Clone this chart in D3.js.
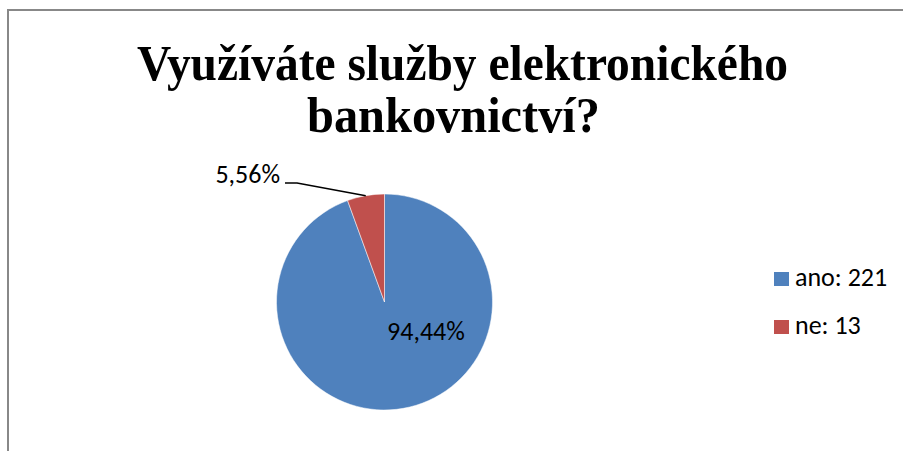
<!DOCTYPE html>
<html>
<head>
<meta charset="utf-8">
<script src="https://cdn.jsdelivr.net/npm/d3@7"></script>
<style>
  body { margin: 0; background: #fff; }
  svg { display: block; }
</style>
</head>
<body>
<svg></svg>
<script>
const titleLines = ['Využíváte služby elektronického', 'bankovnictví?'];
const titleWidths = [651, 293];
const categories = ['ano', 'ne'];
const counts = [221, 13];
const percentLabels = ['94,44%', '5,56%'];
const colors = ['#4f81bd', '#c0504d'];

const [width, height] = [903, 451];
const [cx, cy] = [384.5, 302];
const r = 108;

const svg = d3.select('svg')
  .attr('width', width)
  .attr('height', height);

// chart frame (runs past right and bottom edges)
svg.append('rect')
  .attr('x', 8)
  .attr('y', 10)
  .attr('width', 920)
  .attr('height', 480)
  .attr('fill', '#fff')
  .attr('stroke', '#888')
  .attr('stroke-width', 2);

const title = svg.append('g')
  .attr('font-family', 'Liberation Serif, Times New Roman, serif')
  .attr('font-weight', 'bold')
  .attr('font-size', 50)
  .attr('fill', '#000');
title.selectAll('text')
  .data(titleLines)
  .join('text')
  .attr('text-anchor', 'middle')
  .attr('x', (d, i) => i === 0 ? 462.5 : 453.5)
  .attr('y', (d, i) => 80 + i * 52)
  .attr('textLength', (d, i) => titleWidths[i])
  .attr('lengthAdjust', 'spacingAndGlyphs')
  .text(d => d);

const data = categories.map((c, i) => ({name: c, value: counts[i], label: percentLabels[i], color: colors[i]}));
const pie = d3.pie().sort(null).value(d => d.value);
const arcs = pie(data);
const arc = d3.arc().innerRadius(0).outerRadius(r);

const pieArea = svg.append('g')
  .attr('transform', `translate(${cx}, ${cy})`);

pieArea.selectAll('path.slice')
  .data(arcs)
  .join('path')
  .attr('class', 'slice')
  .attr('d', arc)
  .attr('fill', d => d.data.color)
  .attr('stroke', '#fff')
  .attr('stroke-width', 0.5);

const labelFont = 'Carlito, Lato, Open Sans, sans-serif';

// big slice label inside
const big = arcs[0];
pieArea.append('text')
  .attr('x', 426 - cx)
  .attr('y', 340 - cy)
  .attr('text-anchor', 'middle')
  .attr('font-family', labelFont)
  .attr('font-size', 26)
  .attr('fill', '#000')
  .text(big.data.label);

// small slice label outside with leader line
const small = arcs[1];
const mid = (small.startAngle + small.endAngle) / 2;
const edge = [Math.sin(mid) * r, -Math.cos(mid) * r];
pieArea.append('path')
  .attr('fill', 'none')
  .attr('stroke', '#000')
  .attr('stroke-width', 1.5)
  .attr('d', `M${edge[0]},${edge[1]} L${297 - cx},${183 - cy} L${285 - cx},${183 - cy}`);
pieArea.append('text')
  .attr('x', 280 - cx)
  .attr('y', 183 - cy)
  .attr('text-anchor', 'end')
  .attr('font-family', labelFont)
  .attr('font-size', 26)
  .attr('fill', '#000')
  .text(small.data.label);

// legend
const legend = svg.append('g')
  .attr('transform', 'translate(774, 286)');
const item = legend.selectAll('g')
  .data(data)
  .join('g')
  .attr('transform', (d, i) => `translate(0, ${i * 48})`);
item.append('rect')
  .attr('y', -14)
  .attr('width', 15)
  .attr('height', 14)
  .attr('fill', d => d.color);
item.append('text')
  .attr('x', 21)
  .attr('y', 0)
  .attr('font-family', labelFont)
  .attr('font-size', 26)
  .attr('fill', '#000')
  .text(d => `${d.name}: ${d.value}`);
</script>
</body>
</html>
